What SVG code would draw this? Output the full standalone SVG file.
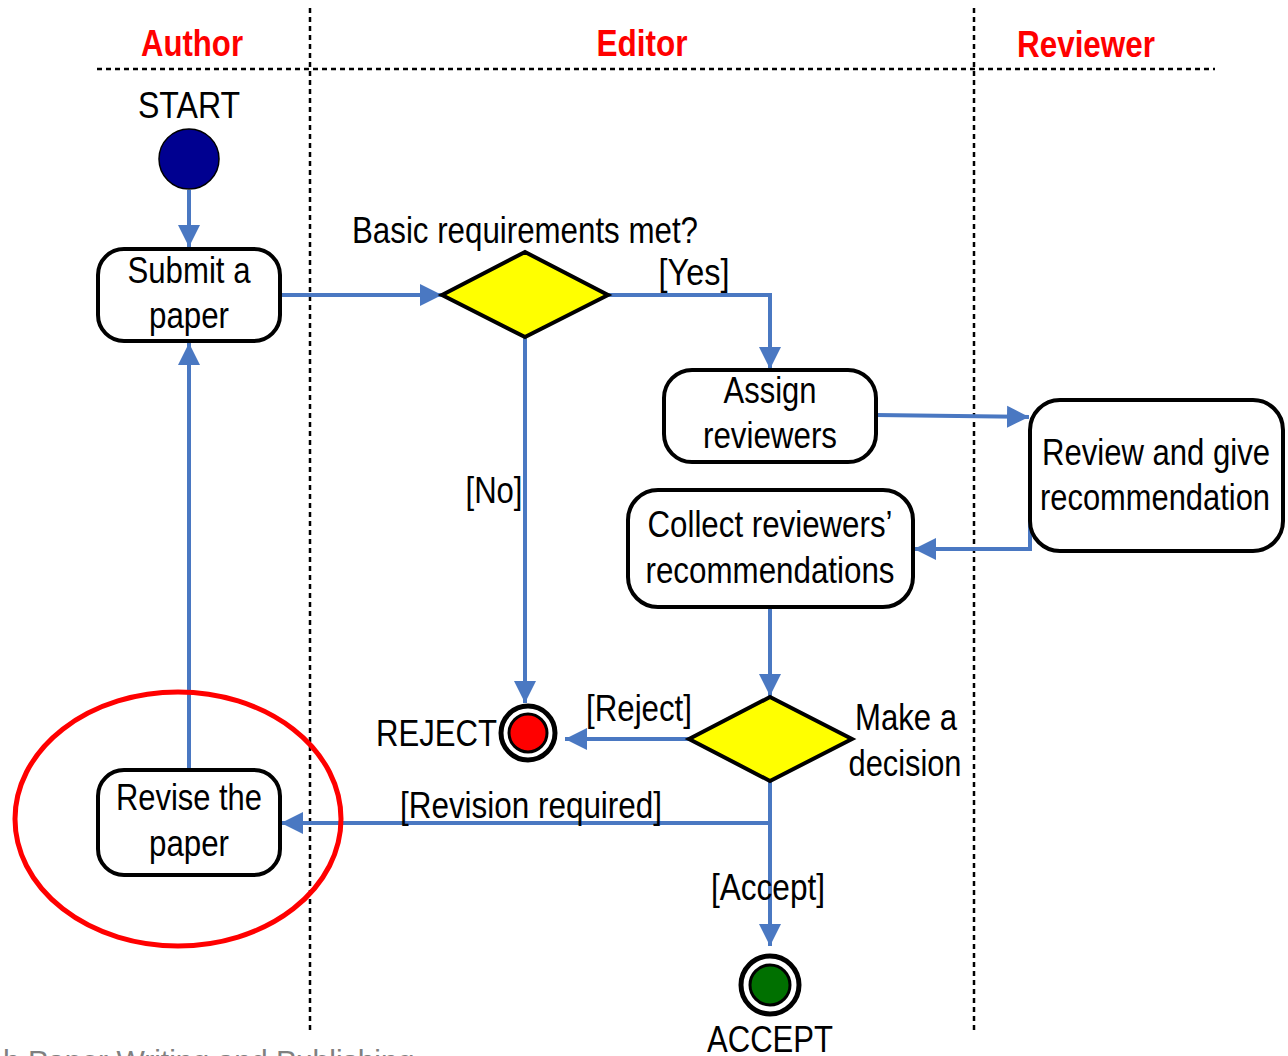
<svg xmlns="http://www.w3.org/2000/svg" width="1288" height="1056" viewBox="0 0 1288 1056">
<defs>
<marker id="ah" markerUnits="userSpaceOnUse" markerWidth="24" markerHeight="24" refX="22" refY="12" orient="auto">
<path d="M0,1 L22,12 L0,23 Z" fill="#4a78c2"/>
</marker>
<style>
.t{font-family:"Liberation Sans",Arial,sans-serif;font-size:36px;fill:#000;}
.h{font-family:"Liberation Sans",Arial,sans-serif;font-size:36px;font-weight:bold;fill:#ff0000;}
.box{fill:#fff;stroke:#000;stroke-width:4;}
.dia{fill:#ffff00;stroke:#000;stroke-width:4;}
.lane{stroke:#000;stroke-width:2.5;stroke-dasharray:5,4;fill:none;}
.c{fill:none;stroke:#4a78c2;stroke-width:4;}
.ca{fill:none;stroke:#4a78c2;stroke-width:4;marker-end:url(#ah);}
</style>
</defs>
<rect width="1288" height="1056" fill="#fff"/>
<g id="lanes">
<line class="lane" x1="97" y1="69" x2="1215" y2="69"/>
<line class="lane" x1="310" y1="8" x2="310" y2="1030"/>
<line class="lane" x1="974" y1="8" x2="974" y2="1030"/>
<text class="h" x="192" y="56" text-anchor="middle" textLength="102" lengthAdjust="spacingAndGlyphs">Author</text>
<text class="h" x="642" y="56" text-anchor="middle" textLength="91" lengthAdjust="spacingAndGlyphs">Editor</text>
<text class="h" x="1086" y="57" text-anchor="middle" textLength="138" lengthAdjust="spacingAndGlyphs">Reviewer</text>
</g>
<g id="connectors">
<path class="ca" d="M189,190 L189,247"/>
<path class="ca" d="M280,295 L442,295"/>
<path class="ca" d="M608,295 L770,295 L770,369"/>
<path class="ca" d="M876,415 L1029,417"/>
<path class="ca" d="M1030,520 L1030,549 L914,549"/>
<path class="ca" d="M770,607 L770,696"/>
<path class="ca" d="M689,739 L565,739"/>
<path class="ca" d="M525,337 L525,703"/>
<path class="ca" d="M770,781 L770,823 L281,823"/>
<path class="ca" d="M770,823 L770,946"/>
<path class="ca" d="M189,770 L189,343"/>
<text class="t" x="694" y="285" text-anchor="middle" textLength="71" lengthAdjust="spacingAndGlyphs">[Yes]</text>
<text class="t" x="494" y="503" text-anchor="middle" textLength="57" lengthAdjust="spacingAndGlyphs">[No]</text>
<text class="t" x="639" y="721" text-anchor="middle" textLength="106" lengthAdjust="spacingAndGlyphs">[Reject]</text>
<text class="t" x="531" y="818" text-anchor="middle" textLength="262" lengthAdjust="spacingAndGlyphs">[Revision required]</text>
<text class="t" x="768" y="900" text-anchor="middle" textLength="114" lengthAdjust="spacingAndGlyphs">[Accept]</text>
</g>
<g id="start">
<text class="t" x="189" y="118" text-anchor="middle" textLength="102" lengthAdjust="spacingAndGlyphs">START</text>
<circle cx="189" cy="159" r="30" fill="#000090" stroke="#000" stroke-width="1.5"/>
</g>
<g id="submit">
<rect class="box" x="98" y="249" width="182" height="92" rx="26"/>
<text class="t" x="189" y="283" text-anchor="middle" textLength="123" lengthAdjust="spacingAndGlyphs">Submit a</text>
<text class="t" x="189" y="328" text-anchor="middle" textLength="80" lengthAdjust="spacingAndGlyphs">paper</text>
</g>
<g id="basic">
<polygon class="dia" points="442,295 525,252 608,295 525,337"/>
<text class="t" x="525" y="243" text-anchor="middle" textLength="346" lengthAdjust="spacingAndGlyphs">Basic requirements met?</text>
</g>
<g id="assign">
<rect class="box" x="664" y="370" width="212" height="92" rx="28"/>
<text class="t" x="770" y="403" text-anchor="middle" textLength="93" lengthAdjust="spacingAndGlyphs">Assign</text>
<text class="t" x="770" y="448" text-anchor="middle" textLength="134" lengthAdjust="spacingAndGlyphs">reviewers</text>
</g>
<g id="review">
<rect class="box" x="1030" y="400" width="253" height="151" rx="30"/>
<text class="t" x="1156" y="465" text-anchor="middle" textLength="228" lengthAdjust="spacingAndGlyphs">Review and give</text>
<text class="t" x="1155" y="510" text-anchor="middle" textLength="230" lengthAdjust="spacingAndGlyphs">recommendation</text>
</g>
<g id="collect">
<rect class="box" x="628" y="490" width="285" height="117" rx="30"/>
<text class="t" x="770" y="537" text-anchor="middle" textLength="245" lengthAdjust="spacingAndGlyphs">Collect reviewers’</text>
<text class="t" x="770" y="583" text-anchor="middle" textLength="249" lengthAdjust="spacingAndGlyphs">recommendations</text>
</g>
<g id="decision">
<polygon class="dia" points="689,739 770,697 852,739 770,781"/>
<text class="t" x="906" y="730" text-anchor="middle" textLength="102" lengthAdjust="spacingAndGlyphs">Make a</text>
<text class="t" x="905" y="776" text-anchor="middle" textLength="113" lengthAdjust="spacingAndGlyphs">decision</text>
</g>
<g id="reject">
<circle cx="528" cy="733" r="27" fill="#fff" stroke="#000" stroke-width="5"/>
<circle cx="528" cy="733" r="19" fill="#ff0000" stroke="#000" stroke-width="3"/>
<text class="t" x="497" y="746" text-anchor="end" textLength="121" lengthAdjust="spacingAndGlyphs">REJECT</text>
</g>
<g id="accept">
<circle cx="770" cy="985" r="29" fill="#fff" stroke="#000" stroke-width="5"/>
<circle cx="770" cy="985" r="20" fill="#007000" stroke="#000" stroke-width="3"/>
<text class="t" x="770" y="1052" text-anchor="middle" textLength="126" lengthAdjust="spacingAndGlyphs">ACCEPT</text>
</g>
<g id="revise">
<rect class="box" x="98" y="770" width="182" height="105" rx="26"/>
<text class="t" x="189" y="810" text-anchor="middle" textLength="146" lengthAdjust="spacingAndGlyphs">Revise the</text>
<text class="t" x="189" y="856" text-anchor="middle" textLength="80" lengthAdjust="spacingAndGlyphs">paper</text>
</g>
<g id="highlight">
<ellipse cx="178" cy="819" rx="163" ry="127" fill="none" stroke="#ff0000" stroke-width="5"/>
</g>
<text x="3" y="1071" font-family="Liberation Sans, Arial, sans-serif" font-size="30" fill="#808080">h Paper Writing and Publishing</text>
</svg>
